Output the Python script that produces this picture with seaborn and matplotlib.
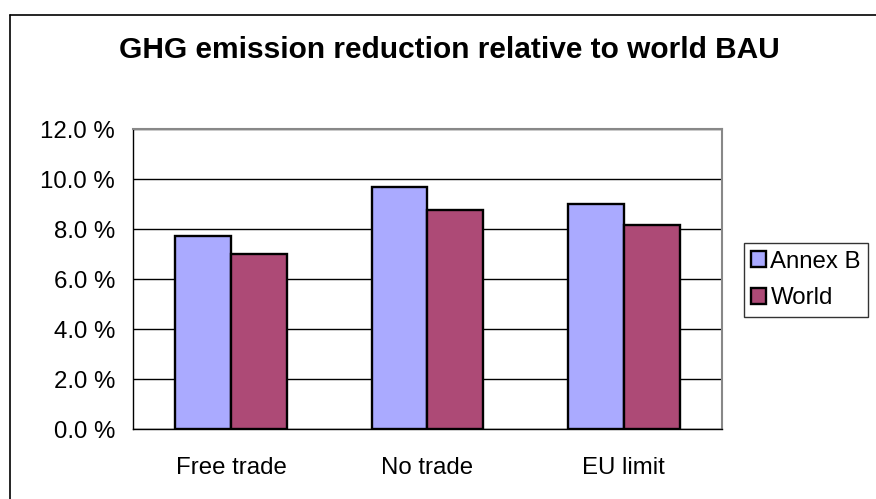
import matplotlib
matplotlib.use("Agg")

import matplotlib.pyplot as plt
import pandas as pd
import seaborn as sns
from matplotlib.lines import Line2D
from matplotlib.patches import Patch
from matplotlib.ticker import FuncFormatter

# values (percent)
scenarios = ["Free trade", "No trade", "EU limit"]
series = ["Annex B", "World"]
annex_b = [7.72, 9.68, 9.02]
world = [7.03, 8.78, 8.16]
colors = ["#AAAAFF", "#AD4A76"]
y_ticks = [0, 2, 4, 6, 8, 10, 12]

df = pd.DataFrame({
    "scenario": scenarios * 2,
    "series": [series[0]] * 3 + [series[1]] * 3,
    "value": annex_b + world,
})

sns.set_style("white", {"text.color": "black", "xtick.color": "black",
                        "ytick.color": "black", "axes.labelcolor": "black"})
plt.rcParams["font.family"] = ["Liberation Sans", "DejaVu Sans"]

W, H = 876, 499
fig = plt.figure(figsize=(W / 100, H / 100), dpi=100)
ax = fig.add_axes([133 / W, 1 - 429.3 / H, (722 - 133) / W, (429.3 - 129.3) / H])

sns.barplot(
    data=df, x="scenario", y="value", hue="series", order=scenarios,
    hue_order=series, palette=colors, width=0.57, edgecolor="black",
    linewidth=1.7, saturation=1, ax=ax, legend=False,
)

ax.set_xlim(-0.5, 2.5)
ax.set_ylim(0, 12)
ax.set_yticks(y_ticks)
ax.yaxis.set_major_formatter(FuncFormatter(lambda v, _: f"{v:.1f} %"))
ax.set_xticks([-0.5, 0.5, 1.5, 2.5])
ax.set_xticklabels([])
ax.set_xticks([0, 1, 2], minor=True)
ax.set_xticklabels(scenarios, minor=True)
ax.tick_params(axis="x", which="major", direction="out", length=5, width=1, color="black")
ax.tick_params(axis="x", which="minor", length=0, pad=20, labelsize=17.3, labelcolor="black")
ax.tick_params(axis="y", direction="out", length=5, width=1, color="black", pad=8,
               labelsize=17.3, labelcolor="black")
ax.set_xlabel("")
ax.set_ylabel("")

ax.yaxis.grid(True, color="black", linewidth=1)
ax.set_axisbelow(True)
for side in ["top", "right"]:
    ax.spines[side].set_visible(True)
    ax.spines[side].set_color("#888888")
    ax.spines[side].set_linewidth(1.5)
for side in ["left", "bottom"]:
    ax.spines[side].set_color("black")
    ax.spines[side].set_linewidth(1)

handles = [Patch(facecolor=c, edgecolor="black", linewidth=1.7) for c in colors]
leg = fig.legend(
    handles, series, loc="center left", bbox_to_anchor=(744 / W, 1 - 280 / H),
    frameon=True, fancybox=False, shadow=False, fontsize=17.3,
    handlelength=0.6, handleheight=0.6, handletextpad=0.2,
    labelspacing=0.62, borderpad=0.3, borderaxespad=0,
)
leg.get_frame().set_edgecolor("black")
leg.get_frame().set_linewidth(1)
for t in leg.get_texts():
    t.set_color("black")

fig.text(449 / W, 1 - 50 / H, "GHG emission reduction relative to world BAU",
         ha="center", va="center", fontsize=21.5, fontweight="bold", color="black")

# chart area border (runs off the right and bottom edges)
fig.add_artist(Line2D([10 / W, 10 / W], [1 - 15 / H, 0], color="black", lw=1.2))
fig.add_artist(Line2D([10 / W, 1], [1 - 15 / H, 1 - 15 / H], color="black", lw=1.2))

fig.savefig("out.png", dpi=100)
